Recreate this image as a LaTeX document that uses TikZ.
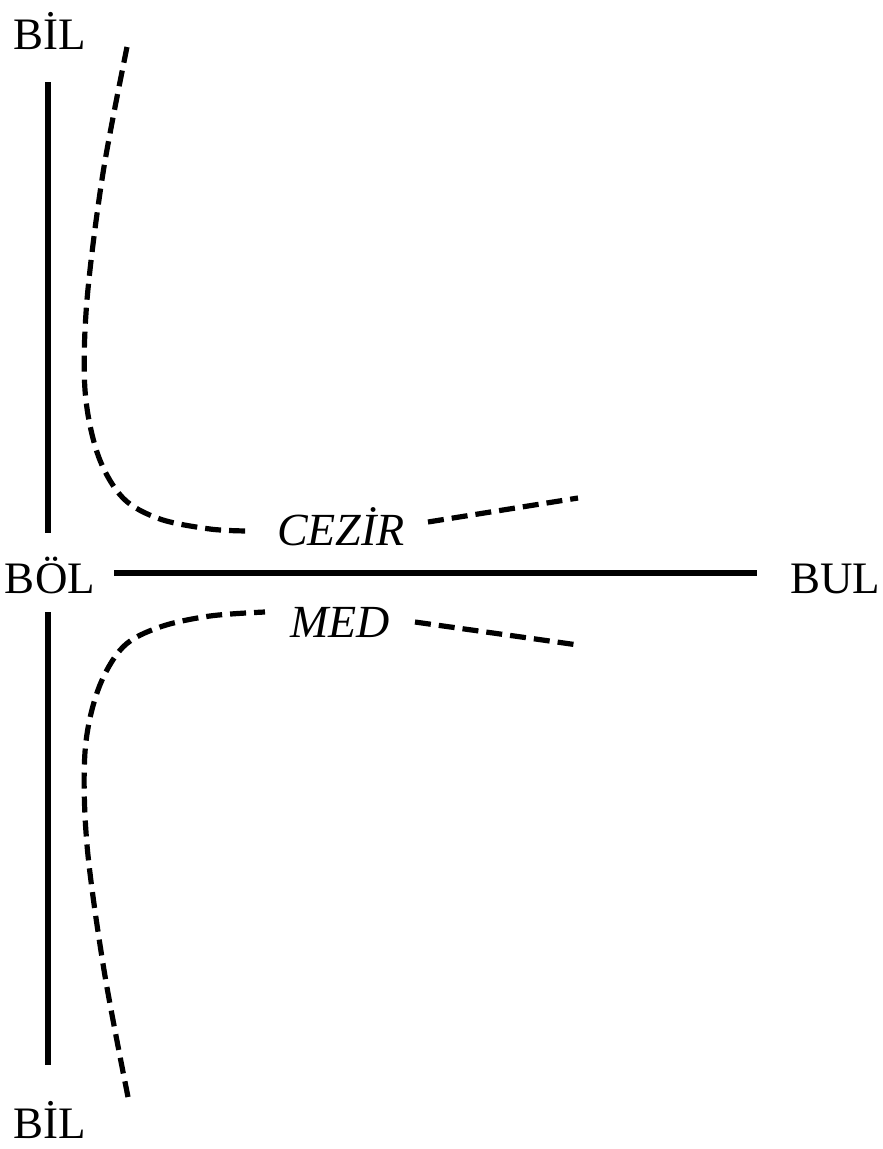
\documentclass[tikz,border=0pt]{standalone}
\usepackage{fontspec}
\setmainfont{Liberation Serif}
\begin{document}
\begin{tikzpicture}[x=1pt,y=-1pt,
  solid line/.style={line width=6pt},
  dash curve/.style={line width=5.2pt,dash pattern=on 16pt off 8pt},
  lbl/.style={inner sep=0pt,anchor=base,font=\fontsize{45}{48}\selectfont},
  ilbl/.style={lbl,font=\fontsize{46}{48}\selectfont\itshape}]
\useasboundingbox (0,0) rectangle (883,1149);
% labels
\node[lbl] (biltop) at (50,49) {BİL};
\node[lbl] (bilbot) at (50,1138) {BİL};
\node[lbl] (bol) at (50,593) {BÖL};
\node[lbl] (bul) at (835,593) {BUL};
\node[ilbl] (cezir) at (341,545) {CEZİR};
\node[ilbl] (med) at (340,637) {MED};
% solid lines
\coordinate (v1a) at (48,82);
\coordinate (v1b) at (48,533);
\coordinate (v2a) at (48,612);
\coordinate (v2b) at (48,1065);
\coordinate (ha) at (114,573);
\coordinate (hb) at (757,573);
\draw[solid line] (v1a) -- (v1b);
\draw[solid line] (v2a) -- (v2b);
\draw[solid line] (ha) -- (hb);
% dashed curves
\draw[dash curve] plot[smooth,tension=0.55] coordinates {(127,47) (103,173) (87,300) (85,390) (98,455) (123,498) (160,519) (210,529) (248,531)};
\coordinate (cr1) at (428,522);
\coordinate (cr2) at (578,498);
\draw[dash curve] (cr1) -- (cr2);
\draw[dash curve] plot[smooth,tension=0.55] coordinates {(128,1097) (104,970) (87,845) (85,752) (98,690) (123,647) (160,627) (210,616) (265,612)};
\coordinate (mr1) at (415,622);
\coordinate (mr2) at (578,645);
\draw[dash curve] (mr1) -- (mr2);
\end{tikzpicture}
\end{document}
